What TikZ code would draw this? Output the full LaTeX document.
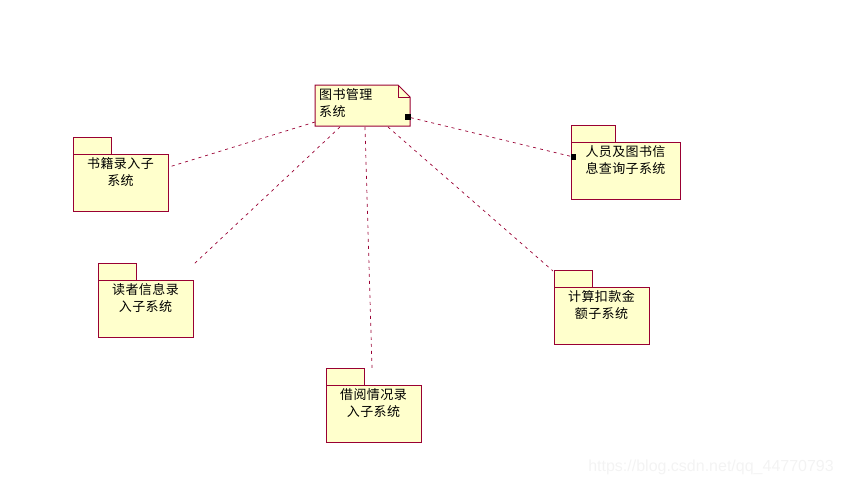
\documentclass[tikz,border=0pt]{standalone}
\usepackage{fontspec}
\usepackage{xcolor}
\usepackage{tikz}
\usetikzlibrary{positioning, calc}
\newfontfamily\cjk[LetterSpace=3]{Noto Sans CJK SC}
\definecolor{umlborder}{RGB}{153,0,51}
\definecolor{umlfill}{RGB}{255,255,204}
\definecolor{markcolor}{RGB}{243,243,243}

\begin{document}
\begin{tikzpicture}[
    x=1pt, y=-1pt,
    pkgbody/.style={draw=umlborder, fill=umlfill, line width=1pt, inner sep=0pt, outer sep=0pt, anchor=north west, minimum width=95pt, minimum height=57pt},
    pkgtab/.style={draw=umlborder, fill=umlfill, line width=1pt, inner sep=0pt, outer sep=0pt, anchor=south west, minimum width=38pt, minimum height=17pt},
    pkgtext/.style={font=\cjk\fontsize{13}{17}\selectfont, align=center, inner sep=0pt, anchor=north},
    port/.style={fill=black, inner sep=0pt, outer sep=0pt, minimum size=5.5pt},
    conn/.style={draw=umlborder, line width=0.7pt, dash pattern=on 3pt off 4pt}
]
    \useasboundingbox (0,0) rectangle (843,485);

    % note in the middle
    \node[anchor=north west, inner sep=0pt, outer sep=0pt, minimum width=95pt, minimum height=41pt] (note) at (315,85) {};
    \draw[umlborder, fill=umlfill, line width=1pt] (note.north west) -- ($(note.north east)+(-12,0)$) -- ($(note.north east)+(0,12)$) -- (note.south east) -- (note.south west) -- cycle;
    \draw[umlborder, line width=1pt] ($(note.north east)+(-12,0)$) -- ($(note.north east)+(-12,12)$) -- ($(note.north east)+(0,12)$);
    \node[font=\cjk\fontsize{13}{17}\selectfont, align=left, inner sep=0pt, anchor=north west] (notetext) at (319,88) {图书管理\\系统};

    % packages
    \node[pkgbody] (book) at (73,154) {};
    \node[pkgtab] (booktab) at (book.north west) {};
    \node[pkgtext, below=3pt of book.north] (booktext) {书籍录入子\\系统};

    \node[pkgbody] (reader) at (98,280) {};
    \node[pkgtab] (readertab) at (reader.north west) {};
    \node[pkgtext, below=3pt of reader.north] (readertext) {读者信息录\\入子系统};

    \node[pkgbody] (borrow) at (326,385) {};
    \node[pkgtab] (borrowtab) at (borrow.north west) {};
    \node[pkgtext, below=3pt of borrow.north] (borrowtext) {借阅情况录\\入子系统};

    \node[pkgbody] (fine) at (554,287) {};
    \node[pkgtab] (finetab) at (fine.north west) {};
    \node[pkgtext, below=3pt of fine.north] (finetext) {计算扣款金\\额子系统};

    \node[pkgbody, minimum width=109pt] (query) at (571,142) {};
    \node[pkgtab, minimum width=44pt] (querytab) at (query.north west) {};
    \node[pkgtext, below=3pt of query.north] (querytext) {人员及图书信\\息查询子系统};

    % free ends of the lines
    \coordinate (notebook) at (315,122);
    \coordinate (notereader) at (340,127);
    \coordinate (noteborrow) at (365,127);
    \coordinate (notefine) at (388,127);
    \coordinate (bookend) at (169,167);
    \coordinate (readerend) at (194,264);
    \coordinate (borrowend) at (372,368);
    \coordinate (fineend) at (553,271);

    % small squares
    \node[port] (noteport) at (408,117) {};
    \node[port] (queryport) at (573.5,157) {};

    % connections
    \draw[conn] (notebook) -- (bookend);
    \draw[conn] (notereader) -- (readerend);
    \draw[conn] (noteborrow) -- (borrowend);
    \draw[conn] (notefine) -- (fineend);
    \draw[conn] (noteport) -- (queryport);

    % watermark
    \node[font=\fontspec{Liberation Sans}\fontsize{16}{18}\selectfont, text=markcolor, inner sep=0pt, anchor=east] (mark) at (834,467) {https://blog.csdn.net/qq\_44770793};
\end{tikzpicture}
\end{document}
